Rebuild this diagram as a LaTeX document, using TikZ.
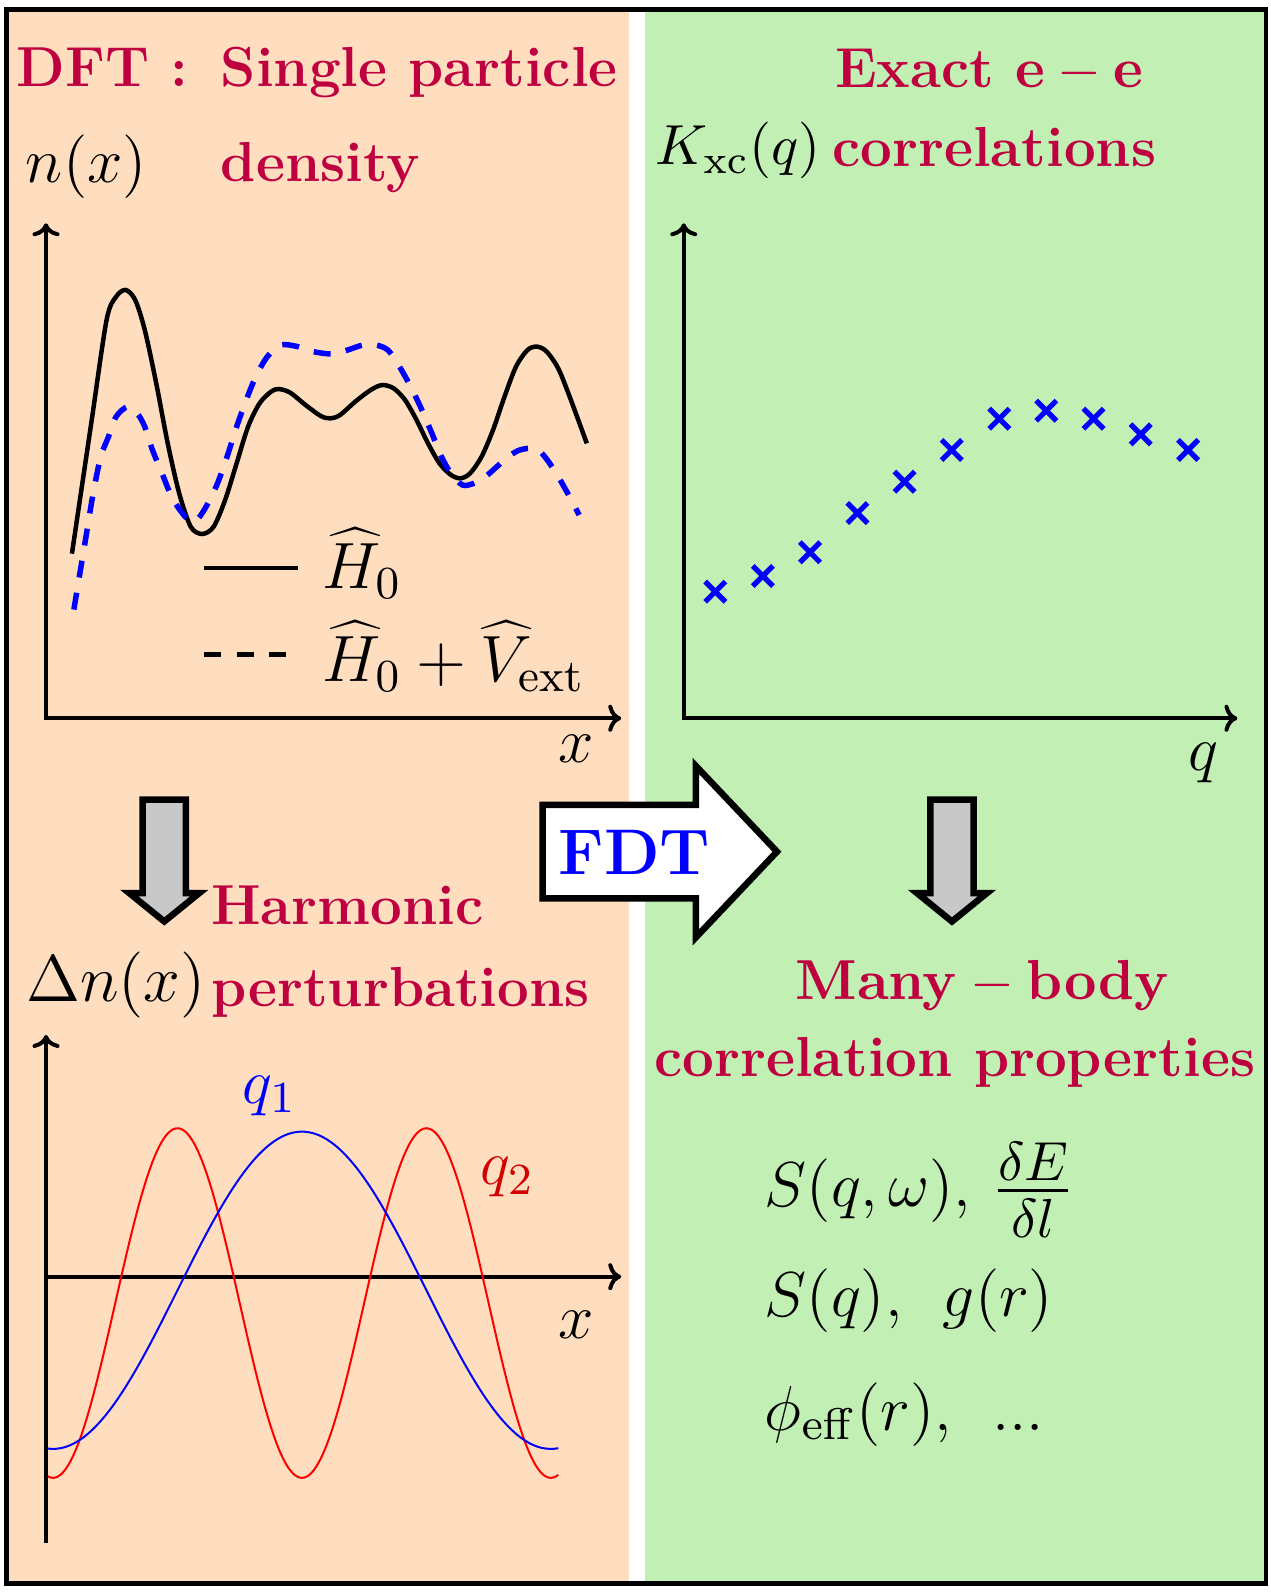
\RequirePackage{fix-cm}
\documentclass[tikz,border=0pt]{standalone}
\usetikzlibrary{arrows.meta}
\definecolor{peach}{RGB}{255,222,191}
\definecolor{lgreen}{RGB}{194,240,180}
\definecolor{crimson}{RGB}{191,0,64}
\definecolor{graybox}{RGB}{200,200,200}
\definecolor{qred}{RGB}{210,0,0}
\begin{document}
\begin{tikzpicture}[x=0.2032pt,y=-0.2032pt,
  head/.style={text=crimson,inner sep=0pt,anchor=base west,font=\fontsize{11.28}{13}\selectfont\bfseries},
  mth/.style={inner sep=0pt,anchor=base west,font=\fontsize{12.7}{15}\selectfont},
  axis/.style={line width=0.8pt,{Computer Modern Rightarrow[length=2.6pt,width=5.4pt]}-{Computer Modern Rightarrow[length=2.6pt,width=5.4pt]}},
  axisone/.style={line width=0.8pt,-{Computer Modern Rightarrow[length=2.6pt,width=5.4pt]}},
  bigarrow/.style={line width=1.3pt,line join=miter,draw=black},
  xmark/.style={blue,line width=1.05pt},
  dens/.style={line width=0.9pt},
  pert/.style={blue,line width=1.1pt,dash pattern=on 3.4pt off 3.1pt},
  thin/.style={line width=0.4pt}
]
\useasboundingbox (0,0) rectangle (1251,1568);
% backgrounds
\fill[peach] (6,9) rectangle (619.4,1559);
\fill[lgreen] (634.8,9) rectangle (1246,1559);
\draw[line width=0.95pt] (6.4,9.35) rectangle (1246,1558.9);

% ---------- top-left plot ----------
\coordinate (y1) at (45.3,219.8);
\coordinate (o1) at (45.3,707);
\coordinate (x1) at (611.5,707);
\draw[axis] (y1) -- (o1) -- (x1);
\draw[dens] plot[smooth,tension=0.5] coordinates {
(70.8,545) (89.8,416.7) (104.9,315.0) (114.3,292.0) (123.7,285.4) (133.1,295.3)
(142.5,324.8) (153.8,377.3) (165.1,436.4) (176.4,485.6) (187.7,518.4) (199.0,525.6)
(210.3,518.4) (221.6,492.1) (232.9,456.1) (244.2,419.9) (255.5,397.0) (266.8,385.5)
(274.4,382.9) (285.7,386.5) (300.7,398.6) (315.8,409.5) (325.2,411.8) (334.7,408.5)
(349.7,395.3) (364.8,383.9) (376.1,379.0) (387.4,382.2) (398.7,393.7) (410.0,413.4)
(421.3,436.4) (432.6,456.1) (443.9,467.5) (453.3,470.8) (462.7,465.9) (474.0,449.5)
(485.3,423.2) (496.6,390.4) (507.9,360.9) (519.2,344.5) (528.7,341.2) (538.1,346.1)
(549.4,362.5) (560.7,390.4) (577.6,436.4)};
\draw[pert] plot[smooth,tension=0.5] coordinates {
(72.7,600) (84.1,531.5) (91.7,485.6) (99.2,449.5) (106.8,429.8) (114.3,410.1)
(125.6,400.3) (135.0,406.8) (142.5,420.0) (150.1,443.0) (159.5,465.9) (168.9,488.9)
(178.3,503.6) (187.7,513.5) (195.3,510.2) (204.7,495.4) (214.1,475.7) (223.5,449.5)
(232.9,420.0) (242.4,393.7) (251.8,370.7) (263.1,351.1) (276.3,339.6) (293.2,341.2)
(308.3,346.1) (327.1,348.4) (342.2,344.5) (357.2,339.6) (370.4,339.6) (381.7,344.5)
(391.2,357.6) (402.5,377.3) (413.8,400.3) (425.1,426.5) (434.5,449.5) (443.9,465.9)
(455.2,477.4) (466.5,475.7) (477.8,469.2) (489.1,459.3) (500.4,449.5) (511.7,442.9)
(526.8,441.3) (536.2,449.5) (547.5,465.9) (558.8,485.6) (570.1,506.9)};
% legend
\coordinate (la) at (201,559);
\coordinate (lb) at (293,559);
\coordinate (lc) at (201,644);
\coordinate (ld) at (283,644);
\draw[dens] (la) -- (lb);
\draw[line width=1.1pt,dash pattern=on 3.4pt off 3.1pt] (lc) -- (ld);
\node[mth,font=\fontsize{13.1}{15}\selectfont] (h0) at (316.5,579) {$\widehat{H}_0$};
\node[mth,font=\fontsize{13.1}{15}\selectfont] (h0v) at (316.5,671) {$\widehat{H}_0+\widehat{V}_{\mathrm{ext}}$};
\node[mth,anchor=base] (xl1) at (567,751) {$x$};

% headings left
\node[head] (dft) at (15.5,85) {DFT :};
\node[head] (sp) at (216.5,85) {Single particle};
\node[head] (densw) at (216.5,179) {density};
\node[mth] (nx) at (24.5,180) {$n(x)$};

% ---------- top-right plot ----------
\node[head] (exact) at (821,86) {Exact $\mathbf{e-e}$};
\node[head] (corr) at (818.5,164) {correlations};
\node[mth,font=\fontsize{11.3}{14}\selectfont] (kxc) at (644,162) {$K_{\mathrm{xc}}(q)$};
\coordinate (y2) at (673,219.8);
\coordinate (o2) at (673,707);
\coordinate (x2) at (1218,707);
\draw[axis] (y2) -- (o2) -- (x2);
\node[mth,anchor=base] (ql) at (1185,758) {$q$};
\foreach \p/\q in {704.1/582.4, 750.9/566.9, 797.3/543.6, 844/505, 890.4/474.1,
  936.8/442.9, 983.6/412.1, 1029.9/404.2, 1076.4/412.1, 1122.8/427.5, 1169.5/442.9}{
  \draw[xmark] ({\p-10},{\q-10}) -- ({\p+10},{\q+10});
  \draw[xmark] ({\p-10},{\q+10}) -- ({\p+10},{\q-10});
}

% ---------- arrows ----------
\draw[bigarrow,fill=graybox] (140.4,787) -- (183,787) -- (183,879) -- (196.2,879) -- (161.7,907) -- (127.2,879) -- (140.4,879) -- cycle;
\draw[bigarrow,fill=graybox] (915.7,787) -- (958.3,787) -- (958.3,879) -- (971.5,879) -- (937,907) -- (902.5,879) -- (915.7,879) -- cycle;
\draw[bigarrow,fill=white] (534.1,792.3) -- (685,792.3) -- (685,754) -- (764.8,838.3) -- (685,922.6) -- (685,884.2) -- (534.1,884.2) -- cycle;
\node[font=\fontsize{12.9}{15}\selectfont\bfseries,text=blue,inner sep=0pt,anchor=base west] (fdt) at (549,861) {FDT};

% ---------- bottom-left ----------
\node[head] (harm) at (207,910) {Harmonic};
\node[head] (pertw) at (207,991) {perturbations};
\node[mth,font=\fontsize{13.2}{15}\selectfont] (dnx) at (25,986) {$\Delta n(x)$};
\coordinate (y3a) at (45.3,1519);
\coordinate (y3) at (45.3,1018.7);
\coordinate (o3) at (45.3,1256.6);
\coordinate (x3) at (611.5,1256.6);
\draw[axisone] (y3a) -- (y3);
\draw[axisone] (o3) -- (x3);
\draw[thin,red] plot[domain=47:549.5,samples=160,smooth] (\x,{1282.6+172.1*cos((\x-52.2)*1.469388)});
\draw[thin,blue] plot[domain=47:549.5,samples=120,smooth] (\x,{1270+156.15*cos((\x-52.2)*0.734694)});
\node[mth,text=blue] (q1) at (238,1086) {$q_1$};
\node[mth,text=qred] (q2) at (472,1166) {$q_2$};
\node[mth,anchor=base] (xl2) at (567,1317) {$x$};

% ---------- bottom-right ----------
\node[head] (many) at (782,984) {$\mathbf{Many-body}$};
\node[head] (cp) at (643,1060) {correlation properties};
\node[mth] (s1) at (752,1188) {$S(q,\omega),$};
\coordinate (fa) at (982.6,1172);
\coordinate (fb) at (1051.5,1172);
\draw[line width=0.7pt] (fa) -- (fb);
\node[mth,anchor=base,font=\fontsize{11}{13}\selectfont] (fnum) at (1017,1161.5) {$\delta E$};
\node[mth,anchor=base,font=\fontsize{11}{13}\selectfont] (fden) at (1017,1218.5) {$\delta l$};
\node[mth] (s2) at (752,1296) {$S(q),\hspace{6pt}g(r)$};
\node[mth] (s3) at (752,1408) {$\phi_{\mathrm{eff}}(r),\hspace{6pt}...$};
\end{tikzpicture}
\end{document}
